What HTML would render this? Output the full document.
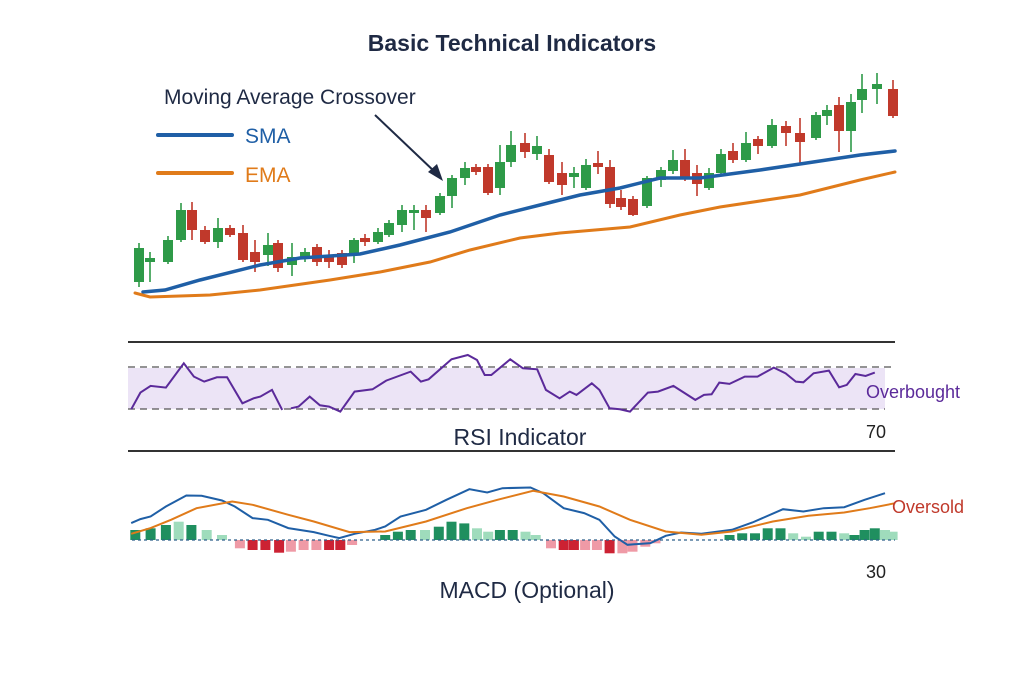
<!DOCTYPE html>
<html><head><meta charset="utf-8"><style>
body{margin:0;background:#fff;width:1024px;height:683px;overflow:hidden}
svg{display:block}
text{font-family:"Liberation Sans","DejaVu Sans",sans-serif}
</style></head><body>
<svg id="s" width="1024" height="683" viewBox="0 0 1024 683" xmlns="http://www.w3.org/2000/svg">
<rect width="1024" height="683" fill="#fff"/>
<text x="512" y="51" text-anchor="middle" font-size="23" font-weight="bold" fill="#1f2a44">Basic Technical Indicators</text>
<text x="164" y="104" font-size="21" fill="#1f2a44">Moving Average Crossover</text>
<line x1="158" y1="135" x2="232" y2="135" stroke="#1f5fa6" stroke-width="4" stroke-linecap="round"/>
<text x="245" y="143" font-size="21" fill="#1f5fa6">SMA</text>
<line x1="158" y1="173" x2="232" y2="173" stroke="#e07b1a" stroke-width="4" stroke-linecap="round"/>
<text x="245" y="182" font-size="21" fill="#e07b1a">EMA</text>
<line x1="375" y1="115" x2="436" y2="173" stroke="#1f2a44" stroke-width="2"/>
<polygon points="443,181 428,172 437,164" fill="#1f2a44"/>
<g id="candles"></g>
<polyline id="sma" fill="none" stroke="#1f5fa6" stroke-width="3.5" stroke-linecap="round"/>
<polyline id="ema" fill="none" stroke="#e07b1a" stroke-width="3" stroke-linecap="round"/>
<line x1="128" y1="342" x2="895" y2="342" stroke="#333" stroke-width="2"/>
<rect x="128" y="368" width="757" height="41" fill="#ece4f6"/>
<line x1="128" y1="367" x2="895" y2="367" stroke="#555" stroke-width="1.3" stroke-dasharray="7,5"/>
<line x1="128" y1="409" x2="885" y2="409" stroke="#555" stroke-width="1.3" stroke-dasharray="7,5"/>
<polyline id="rsi1" fill="none" stroke="#5b2a9a" stroke-width="2"/>
<polyline id="rsi2" fill="none" stroke="#5b2a9a" stroke-width="2"/>
<text x="866" y="398" font-size="18" fill="#5b2a9a">Overbought</text>
<text x="866" y="438" font-size="18" fill="#222">70</text>
<text x="520" y="445" text-anchor="middle" font-size="23" fill="#1f2a44">RSI Indicator</text>
<line x1="128" y1="451" x2="895" y2="451" stroke="#333" stroke-width="2"/>
<g id="hist"></g>
<line x1="132" y1="540" x2="895" y2="540" stroke="#2e5f8a" stroke-width="1.2" stroke-dasharray="3,3"/>
<polyline id="m1" fill="none" stroke="#1f5fa6" stroke-width="2"/>
<polyline id="m2" fill="none" stroke="#e07b1a" stroke-width="2"/>
<text x="892" y="513" font-size="18" fill="#c0392b">Oversold</text>
<text x="866" y="578" font-size="18" fill="#222">30</text>
<text x="527" y="598" text-anchor="middle" font-size="23" fill="#1f2a44">MACD (Optional)</text>
</svg>
<script>
var NS="http://www.w3.org/2000/svg";
function el(p,t,a){var e=document.createElementNS(NS,t);for(var k in a)e.setAttribute(k,a[k]);p.appendChild(e);return e;}
var C=[[139,248,282,243,287,'g'],[150,258,262,252,282,'g'],[168,240,262,236,264,'g'],[181,210,240,203,242,'g'],[192,210,230,202,240,'r'],[205,230,242,226,244,'r'],[218,228,242,218,248,'g'],[230,228,235,225,237,'r'],[243,233,260,225,262,'r'],[255,252,262,240,272,'r'],[268,245,255,233,266,'g'],[278,243,268,240,272,'r'],[292,257,265,243,276,'g'],[305,252,258,248,262,'g'],[317,247,262,244,266,'r'],[329,255,262,250,268,'r'],[342,253,265,250,268,'r'],[354,240,255,238,263,'g'],[365,238,242,234,246,'r'],[378,232,242,228,244,'g'],[389,223,235,220,237,'g'],[402,210,225,205,232,'g'],[414,210,213,205,230,'g'],[426,210,218,205,232,'r'],[440,196,213,193,215,'g'],[452,178,196,175,208,'g'],[465,168,178,162,185,'g'],[476,167,172,164,175,'r'],[488,167,193,164,195,'r'],[500,162,188,145,195,'g'],
[511,145,162,131,167,'g'],[525,143,152,133,158,'r'],[537,146,154,136,160,'g'],[549,155,182,149,184,'r'],[562,173,185,162,195,'r'],[574,173,177,167,188,'g'],[586,165,188,159,190,'g'],[598,163,167,151,174,'r'],[610,167,204,160,208,'r'],[621,198,207,190,210,'r'],[633,199,215,196,216,'r'],[647,178,206,176,208,'g'],[661,170,180,167,187,'g'],[673,160,171,150,174,'g'],[685,160,177,149,181,'r'],[697,173,184,165,196,'r'],[709,173,188,168,190,'g'],[721,154,173,149,175,'g'],[733,151,160,143,163,'r'],[746,143,160,132,162,'g'],[758,139,146,136,154,'r'],[772,125,146,119,148,'g'],[786,126,133,121,146,'r'],[800,133,142,118,165,'r'],[816,115,138,112,140,'g'],[827,110,116,105,125,'g'],[839,105,131,97,152,'r'],[851,102,131,94,152,'g'],[862,89,100,74,113,'g'],[877,84,89,73,104,'g'],[893,89,116,80,118,'r']];
var cg=document.getElementById('candles');
C.forEach(function(c){var col=c[5]=='g'?'#2e9a48':'#c0392b';
el(cg,'line',{x1:c[0],x2:c[0],y1:c[3],y2:c[4],stroke:col,'stroke-width':1.6});
el(cg,'rect',{x:c[0]-5,y:c[1],width:10,height:Math.max(3,c[2]-c[1]),fill:col});});
function pts(a){return a.map(function(p){return p[0]+','+p[1]}).join(' ');}
document.getElementById('sma').setAttribute('points',pts([[143,292],[165,290],[200,280],[260,265],[300,258],[360,254],[400,245],[450,232],[500,215],[540,205],[580,195],[620,188],[660,178],[700,178],[760,170],[800,164],[860,155],[895,151]]));
document.getElementById('ema').setAttribute('points',pts([[135,293],[150,297],[210,295],[260,290],[330,280],[380,272],[430,262],[470,250],[520,238],[560,233],[630,227],[680,215],[720,207],[800,195],[860,180],[895,172]]));
var SY=0.333;
function cv(a){return a.map(function(p){return [(120+p[0]*0.51).toFixed(1),(330+p[1]*SY).toFixed(1)]});}
var R=[[22,238],[40,188],[60,168],[90,173],[125,100],[145,140],[165,155],[190,142],[210,142],[240,220],[262,205],[275,200],[298,180],[318,240]];
var R2=[[335,235],[350,230],[372,200],[392,226],[410,230],[432,245],[460,185],[495,178],[522,152],[570,125],[590,155],[605,148],[650,88],[682,75],[700,90],[715,135],[728,135],[765,88],[790,115],[818,118],[835,180],[862,205],[882,185],[895,195],[925,160],[940,180],[960,235],[980,238],[1000,245],[1035,188],[1055,185],[1085,168],[1128,210],[1145,195],[1160,193],[1175,158],[1195,162],[1225,140],[1250,140],[1282,113],[1305,130],[1325,155],[1340,157],[1360,130],[1390,122],[1410,172],[1425,165],[1442,132],[1462,138],[1480,128]];
document.getElementById('rsi1').setAttribute('points',pts(cv(R)));
document.getElementById('rsi2').setAttribute('points',pts(cv(R2)));
var M1=[[22,580],[40,568],[60,560],[90,530],[130,497],[160,498],[200,512],[225,530],[260,565],[290,570],[330,595],[380,607],[410,618],[430,625],[460,612],[500,600],[520,590],[550,560],[600,540],[640,510],[685,478],[720,488],[750,475],[805,473],[830,490],[870,535],[910,550],[940,570],[970,620],[995,645],[1040,640],[1070,618],[1100,608],[1140,612],[1200,600],[1240,578],[1300,538],[1340,545],[1380,535],[1420,532],[1460,510],[1500,490]];
var M2=[[22,612],[60,595],[100,570],[150,535],[220,515],[260,525],[330,555],[380,575],[450,607],[520,605],[600,575],[680,535],[740,510],[810,483],[870,500],[940,530],[1000,570],[1070,605],[1140,615],[1200,605],[1280,575],[1350,558],[1420,548],[1470,535],[1520,520]];
var H=[[30,30,0],[60,35,0],[90,45,0],[115,55,1],[140,45,0],[170,30,1],[200,15,1],[235,-25,1],[260,-30,0],[285,-30,0],[312,-38,0],[335,-35,1],[360,-30,1],[385,-30,1],[410,-30,0],[432,-30,0],[455,-15,1],[520,15,0],[545,25,0],[570,30,0],[598,30,1],[625,40,0],[650,55,0],[675,50,0],[700,35,1],[722,25,1],[745,30,0],[770,30,0],[795,25,1],[815,15,1],[845,-25,1],[870,-30,0],[890,-30,0],[912,-30,1],[935,-30,1],[960,-40,0],[985,-40,1],[1005,-35,1],[1030,-20,1],[1050,-10,1],[1195,15,0],[1220,20,0],[1245,20,0],[1270,35,0],[1295,35,0],[1320,20,1],[1345,10,1],[1370,25,0],[1395,25,0],[1420,20,1],[1440,15,0],[1460,30,0],[1480,35,0],[1500,30,1],[1515,25,1]];
var hg=document.getElementById('hist');
H.forEach(function(h){var x=120+h[0]*0.51,v=h[1]*SY,y0=540;
var col=v>0?(h[2]?'#9fdcbc':'#1f8f5f'):(h[2]?'#ef9aa6':'#cc2233');
el(hg,'rect',{x:(x-5).toFixed(1),y:(v>0?y0-v:y0).toFixed(1),width:10,height:Math.abs(v).toFixed(1),fill:col});});
document.getElementById('m1').setAttribute('points',pts(cv(M1)));
document.getElementById('m2').setAttribute('points',pts(cv(M2)));
</script>
</body></html>
